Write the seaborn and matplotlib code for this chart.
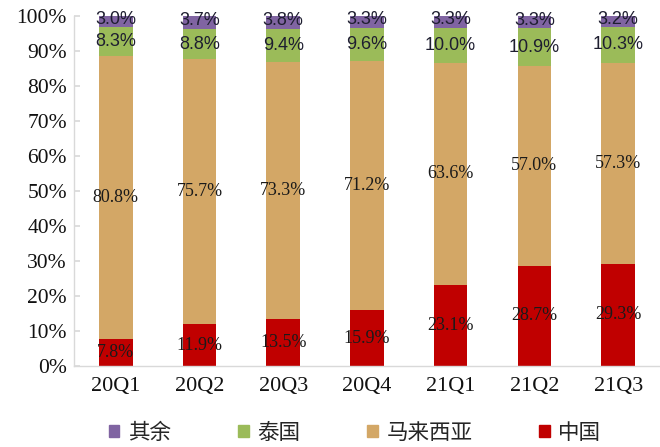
import numpy as np
import pandas as pd
import seaborn as sns
import matplotlib.pyplot as plt
from matplotlib.patches import Patch
from matplotlib.ticker import FuncFormatter

quarters = ["20Q1", "20Q2", "20Q3", "20Q4", "21Q1", "21Q2", "21Q3"]
china = [7.8, 11.9, 13.5, 15.9, 23.1, 28.7, 29.3]
malaysia = [80.8, 75.7, 73.3, 71.2, 63.6, 57.0, 57.3]
thailand = [8.3, 8.8, 9.4, 9.6, 10.0, 10.9, 10.3]
others = [3.0, 3.7, 3.8, 3.3, 3.3, 3.3, 3.2]

series_names = ["中国", "马来西亚", "泰国", "其余"]
series_vals = [china, malaysia, thailand, others]
colors = ["#C00000", "#D3A766", "#9BBB59", "#8064A2"]

df = pd.DataFrame({"quarter": quarters})
bottoms = np.zeros(len(quarters))
for name, vals in zip(series_names, series_vals):
    df[name + "_bottom"] = bottoms
    bottoms = bottoms + np.array(vals)
    df[name + "_top"] = bottoms

sns.set_theme(style="white")
plt.rcParams["font.family"] = ["Liberation Serif", "DejaVu Serif"]

fig = plt.figure(figsize=(6.6, 4.47), dpi=100)
ax = fig.add_axes([0.112, 0.181, 0.888, 0.783])

# stacked bars: draw cumulative tops from the highest layer down
for name, col in reversed(list(zip(series_names, colors))):
    sns.barplot(data=df, x="quarter", y=name + "_top", color=col, width=0.4,
                saturation=1, ax=ax, linewidth=0)

# segment labels
for name, vals in zip(series_names, series_vals):
    for i, v in enumerate(vals):
        y = df.loc[i, name + "_bottom"] + v / 2
        if name in ("泰国", "其余"):
            ax.text(i, y + (0.6 if name == "其余" else 0), f"{v:.1f}%",
                    ha="center", va="center", fontsize=13,
                    family=["Liberation Sans", "DejaVu Sans"], color="#1E1E30")
        else:
            ax.text(i, y, f"{v:.1f}%", ha="center", va="center", fontsize=13,
                    color="#1A1A1A")

ax.set_xlim(-0.5, 6.5)
ax.set_ylim(0, 100)
ax.set_yticks(np.arange(0, 101, 10))
ax.yaxis.set_major_formatter(FuncFormatter(lambda v, p: f"{int(v)}%"))
ax.set_xlabel("")
ax.set_ylabel("")
ax.tick_params(axis="y", labelsize=15.5, length=4, direction="in", color="#D9D9D9",
               left=True, pad=5, labelcolor="#111111")
ax.tick_params(axis="x", labelsize=16, length=0, pad=8, labelcolor="#111111")
sns.despine(ax=ax)
for s in ("left", "bottom"):
    ax.spines[s].set_color("#D9D9D9")
    ax.spines[s].set_linewidth(1.0)

handles = [Patch(color=c) for c in reversed(colors)]
labels = list(reversed(series_names))
fig.legend(handles, labels, loc="center", bbox_to_anchor=(0.538, 0.032), ncol=4,
           frameon=False, handlelength=0.5, handleheight=0.5, handletextpad=0.4,
           columnspacing=3.1, prop={"family": ["Noto Sans CJK SC", "DejaVu Sans"], "size": 15.5})

fig.savefig("out.png", dpi=100)
